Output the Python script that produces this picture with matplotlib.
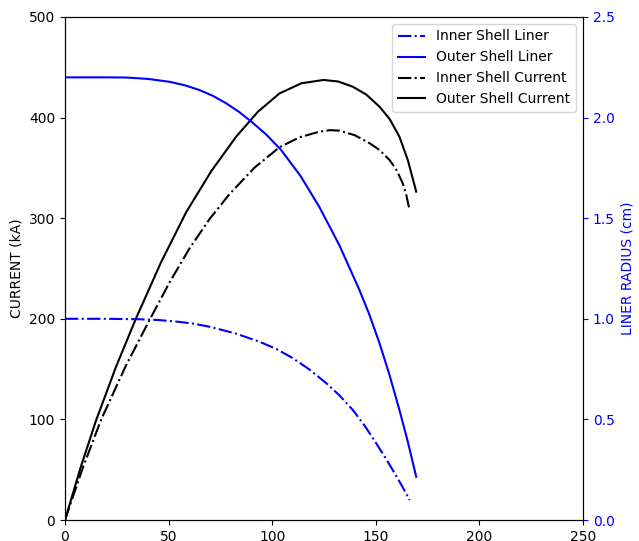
import matplotlib.pyplot as plt

# values (time in ns, current in kA, radius in cm)
t_outer_cur = [0, 7.5, 15, 24.7, 34.4, 46.5, 58.5, 70.6, 82.6, 93.1, 103.5, 114.1, 124.7,
               131.8, 138.9, 145.4, 151.8, 156.6, 161.4, 165.5, 169.5]
i_outer_cur = [0, 51.9, 99, 152.7, 201, 256.8, 306, 346.8, 381, 405.8, 424, 434.1, 437.4,
               435.9, 430.7, 422.9, 410.8, 398.8, 381, 357.5, 326.4]

t_inner_cur = [0, 8.8, 17.5, 29.3, 41.1, 50.6, 60.1, 69.8, 79.4, 91.5, 103.5, 113.2, 122.8,
               127.7, 132.5, 139.8, 147, 151.8, 156.6, 159.8, 163, 164.7, 166.3]
i_inner_cur = [0, 53.0, 100, 153.0, 200, 236.7, 270, 299.2, 324, 350.3, 370.5, 380.4, 386,
               387.5, 387, 382.5, 374.5, 367.8, 357.9, 348.6, 334.7, 323.2, 308]

t_outer_lin = [0, 20, 30, 40.2, 50.4, 57.7, 64.9, 71.4, 77.8, 83.9, 89.9, 97.1, 104.3, 113.6,
               122.8, 132.5, 142.1, 147.0, 151.8, 156.6, 161.4, 165.5, 169.5]
r_outer_lin = [2.2, 2.2, 2.199, 2.192, 2.178, 2.161, 2.137, 2.108, 2.071, 2.029, 1.98, 1.916,
               1.839, 1.711, 1.555, 1.364, 1.143, 1.018, 0.878, 0.721, 0.547, 0.387, 0.215]

t_inner_lin = [0, 20, 35, 45, 55, 62.5, 70, 82, 93.9, 102, 110, 118.1, 126.1, 132.5, 138.9,
               144.6, 150.2, 155, 159.8, 163.1, 166.3]
r_inner_lin = [1.0, 1.0, 0.998, 0.994, 0.985, 0.975, 0.96, 0.928, 0.886, 0.85, 0.804, 0.747,
               0.68, 0.619, 0.547, 0.469, 0.381, 0.303, 0.22, 0.161, 0.099]

fig = plt.figure(figsize=(6.39, 5.41), dpi=100)
ax = fig.add_axes([0.1017, 0.0388, 0.8107, 0.9298])
ax2 = ax.twinx()

l1, = ax2.plot(t_inner_lin, r_inner_lin, color='blue', linestyle='-.', label='Inner Shell Liner')
l2, = ax2.plot(t_outer_lin, r_outer_lin, color='blue', linestyle='-', label='Outer Shell Liner')
l3, = ax.plot(t_inner_cur, i_inner_cur, color='black', linestyle='-.', label='Inner Shell Current')
l4, = ax.plot(t_outer_cur, i_outer_cur, color='black', linestyle='-', label='Outer Shell Current')

ax.set_xlim(0, 250)
ax.set_ylim(0, 500)
ax2.set_ylim(0, 2.5)
ax.set_ylabel("CURRENT (kA)")
ax2.set_ylabel("LINER RADIUS (cm)", color='blue')
ax2.tick_params(axis='y', colors='blue')

ax2.legend(handles=[l1, l2, l3, l4], loc='upper right')

fig.savefig("out.png", dpi=100)
